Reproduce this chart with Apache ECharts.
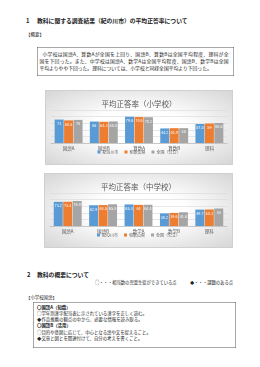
<!DOCTYPE html>
<html>
<head>
<meta charset="utf-8">
<script src="https://cdn.jsdelivr.net/npm/echarts@6/dist/echarts.min.js"></script>
<style>
  body { margin: 0; width: 260px; height: 367px; background: #fff; position: relative; overflow: hidden;
         font-family: "Noto Sans CJK JP", sans-serif; color: #222; }
  /* text layer drawn at 2x and scaled down so tiny sizes are not clamped */
  .page { position: absolute; left: 0; top: 0; width: 520px; height: 734px; transform: scale(0.5); transform-origin: 0 0; }
  .t { position: absolute; white-space: nowrap; line-height: 1; }
  .h { font-size: 11.6px; font-weight: bold; }
  .box { position: absolute; border: 1.6px solid #555; box-sizing: border-box; }
  .ln { position: absolute; white-space: nowrap; line-height: 1; text-align: justify; text-align-last: justify; font-size: 9.6px; }
  .chart { position: absolute; border: 0.8px solid #d0d0d0; box-sizing: border-box;
           background: radial-gradient(ellipse at center, #ffffff 35%, #d6d6d6 100%); }
</style>
</head>
<body>
<div class="page">
  <div class="t h" style="left:52px;top:35px;">1</div>
  <div class="t h" style="left:74px;top:35px;">教科に関する調査結果（紀の川市）の平均正答率について</div>
  <div class="t" style="left:52px;top:63px;font-size:9px;">【概要】</div>
  <div class="box" style="left:74px;top:94px;width:394px;height:58px;">
    <div class="ln" style="left:10px;top:9px;width:372px;">小学校は国語A、算数Aが全国を上回り、国語B、算数Bは全国平均程度、理科が全</div>
    <div class="ln" style="left:4px;top:23px;width:378px;">国を下回った。また、中学校は国語A、数学Aは全国平均程度、国語B、数学Bは全国</div>
    <div class="ln" style="left:4px;top:37px;text-align-last:left;">平均よりやや下回った。理科については、小学校と同様全国平均より下回った。</div>
  </div>

  <div class="t h" style="left:54px;top:543px;">2</div>
  <div class="t h" style="left:74px;top:543px;">教科の概要について</div>
  <div class="t" style="left:190px;top:560px;font-size:8.6px;">○・・・相当数の児童生徒ができている点</div>
  <div class="t" style="left:380px;top:560px;font-size:8.6px;">◆・・・課題のある点</div>
  <div class="t" style="left:52px;top:590px;font-size:8.8px;">【小学校国語】</div>
  <div class="box" style="left:66px;top:604px;width:406px;height:92px;font-size:8.8px;">
    <div class="t" style="left:7px;top:6px;font-weight:bold;">〇国語A（知識）</div>
    <div class="t" style="left:7px;top:18px;">○学年別漢字配当表に示されている漢字を正しく読む。</div>
    <div class="t" style="left:7px;top:30px;">◆作品推薦の観点の中から、必要な情報を読み取る。</div>
    <div class="t" style="left:7px;top:42px;font-weight:bold;">〇国語B（活用）</div>
    <div class="t" style="left:7px;top:55px;">○目的や意図に応じて、中心となる語や文を捉えること。</div>
    <div class="t" style="left:7px;top:68px;">◆文章と図とを関連付けて、自分の考えを書くこと。</div>
  </div>
</div>

<div id="c1" class="chart" style="left:45px;top:90px;width:188px;height:75px;"></div>
<div id="c2" class="chart" style="left:44px;top:173px;width:189px;height:75px;"></div>

<script>
// 平均正答率
const seriesNames = ["紀の川市", "和歌山県", "全国（公立）"];

const elemSubjects = ["国語A", "国語B", "算数A", "算数B", "理科"];
const elemCity = [71, 65, 79.6, 44.2, 57.5];
const elemPref = [68.5, 64.3, 78.6, 44.9, 59];
const elemNation = [70, 65.4, 78.2, 45, 60.6];

const juniorSubjects = ["国語A", "国語B", "数学A", "数学B", "理科"];
const juniorCity = [73.2, 62.9, 65.3, 38.2, 49.7];
const juniorPref = [73.4, 63.5, 64, 39.6, 50.1];
const juniorNation = [75.8, 65.8, 64.4, 41.6, 53];

const font = "Noto Sans CJK JP";
const colors = ["#5B9BD5", "#ED7D31", "#A5A5A5"];

function drawChart(id, title, cats, values) {
    const chart = echarts.init(document.getElementById(id));
    chart.setOption({
        animation: false,
        color: colors,
        textStyle: { fontFamily: font },
        title: {
            text: title,
            left: "center",
            top: 4.5,
            textStyle: { fontSize: 7.5, color: "#595959", fontWeight: "normal", fontFamily: font }
        },
        legend: {
            bottom: 5,
            icon: "rect",
            itemWidth: 3,
            itemHeight: 3,
            itemGap: 6,
            textStyle: { fontSize: 4, color: "#595959", padding: [0, 0, 0, -3] }
        },
        grid: { left: 5, right: 5, top: 19, bottom: 21 },
        xAxis: {
            type: "category",
            data: cats,
            axisTick: { show: false },
            axisLine: { lineStyle: { color: "#bfbfbf", width: 0.8 } },
            axisLabel: { fontSize: 4.5, color: "#595959", margin: 3 }
        },
        yAxis: {
            type: "value",
            min: 0,
            max: 100,
            interval: 20,
            axisLabel: { show: false },
            axisLine: { show: false },
            splitLine: { lineStyle: { color: "#d9d9d9", width: 0.6 } }
        },
        series: seriesNames.map((n, i) => ({
            name: n,
            type: "bar",
            data: values[i],
            barWidth: 9,
            barGap: "5%",
            label: {
                show: true,
                position: "insideTop",
                distance: 2,
                fontSize: 3.8,
                color: "#fff"
            }
        }))
    });
}

drawChart("c1", "平均正答率（小学校）", elemSubjects, [elemCity, elemPref, elemNation]);
drawChart("c2", "平均正答率（中学校）", juniorSubjects, [juniorCity, juniorPref, juniorNation]);
</script>
</body>
</html>
